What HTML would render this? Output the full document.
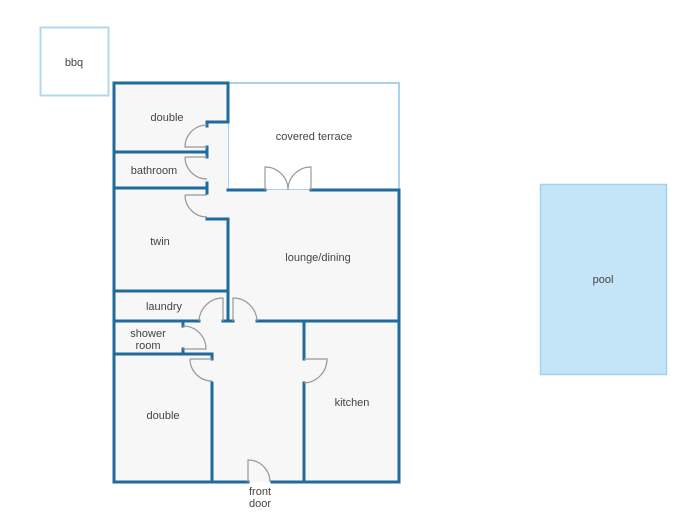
<!DOCTYPE html>
<html><head><meta charset="utf-8"><style>
html,body{margin:0;padding:0;background:#fff;}
svg{display:block}
text{font-family:"Liberation Sans",sans-serif;font-size:11px;fill:#444;text-anchor:middle}
</style></head><body>
<svg width="700" height="521" viewBox="0 0 700 521">
<!-- bbq -->
<rect x="40.5" y="27.5" width="68" height="68" fill="#fff" stroke="#b3d8ee" stroke-width="2"/>
<text x="74" y="66">bbq</text>
<!-- pool -->
<rect x="540.5" y="184.5" width="126" height="190" fill="#c4e4f8" stroke="#a5d0ea" stroke-width="1.5"/>
<text x="603" y="283">pool</text>
<!-- terrace -->
<rect x="228" y="83" width="171" height="107" fill="#fff" stroke="#a9d3ec" stroke-width="2"/>
<!-- interior fill -->
<path d="M114 83 H228 V190 H399 V482 H114 Z" fill="#f7f7f7"/>
<g stroke="#1f6b9e" stroke-width="3" fill="none" stroke-linecap="square">
<!-- outer -->
<path d="M228 83 H114 V482 H248"/>
<path d="M272 482 H399 V190 H311"/>
<path d="M265 190 H228"/>
<path d="M228 83 V122 H207 V126"/>
<path d="M207 219 H228 V321"/>
<path d="M114 152 H207 M207 147 V157"/>
<path d="M114 188 H207 M207 183 V193"/>
<path d="M114 291 H228"/>
<path d="M114 321 H199"/>
<path d="M223 321 H233"/>
<path d="M257 321 H399"/>
<path d="M183 321 V326"/>
<path d="M114 354 H212 M183 349 V354 M212 354 V359"/>
<path d="M212 383 V482"/>
<path d="M304 321 V359"/>
<path d="M304 383 V482"/>
</g>
<g stroke="#999" stroke-width="1.2" fill="none">
<!-- left stack doors -->
<path d="M207 125 A22 22 0 0 0 185 147 H207"/>
<path d="M185 157 A22 22 0 0 0 207 179"/>
<path d="M207 157 H185"/>
<path d="M185 195 A22 22 0 0 0 207 217"/>
<path d="M207 195 H185"/>
<!-- terrace doors -->
<path d="M265 190 V167 A23 23 0 0 1 288 190"/>
<path d="M311 190 V167 A23 23 0 0 0 288 190"/>
<!-- hall doors -->
<path d="M223 321 V298 A24 24 0 0 0 199 321"/>
<path d="M233 321 V298 A24 24 0 0 1 257 321"/>
<path d="M183 326 A23 23 0 0 1 206 349 H183"/>
<path d="M190 359 A22 22 0 0 0 212 381"/>
<path d="M212 359 H190"/>
<path d="M304 359 H327 A24 24 0 0 1 304 383"/>
<path d="M248 482 V460 A22 22 0 0 1 270 482"/>
</g>
<text x="167" y="121">double</text>
<text x="154" y="174">bathroom</text>
<text x="160" y="245">twin</text>
<text x="314" y="140">covered terrace</text>
<text x="318" y="261">lounge/dining</text>
<text x="164" y="310">laundry</text>
<text x="148" y="337">shower</text>
<text x="148" y="349">room</text>
<text x="163" y="419">double</text>
<text x="352" y="406">kitchen</text>
<text x="260" y="495">front</text>
<text x="260" y="507">door</text>
</svg>
</body></html>
